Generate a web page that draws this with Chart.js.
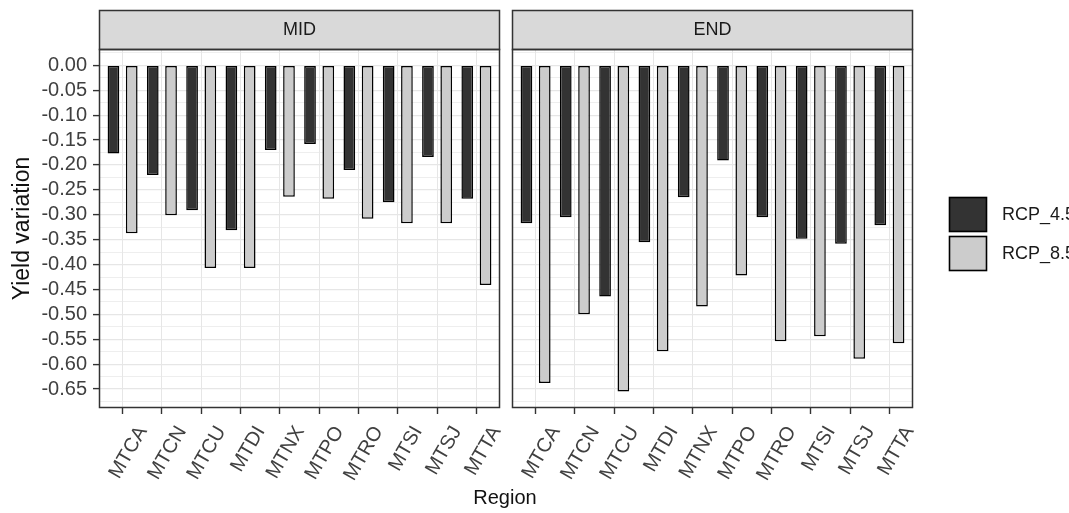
<!DOCTYPE html>
<html>
<head>
<meta charset="utf-8">
<script src="https://cdn.jsdelivr.net/npm/chart.js@4.4.1/dist/chart.umd.min.js"></script>
<style>
  html, body { margin:0; padding:0; background:#fff; overflow:hidden; width:1069px; height:513px; }
  #wrap { position:relative; width:1069px; height:513px; }
  canvas { position:absolute; top:0; }
  #c1 { left:0; }
  #c2 { left:506px; }
  #xtitle { position:absolute; left:0; width:1010px; top:486px; text-align:center;
            font:20px "Liberation Sans", Arial, sans-serif; line-height:22px; color:#111; }
</style>
</head>
<body>
<div id="wrap">
  <canvas id="c1" width="506" height="513"></canvas>
  <canvas id="c2" width="563" height="513"></canvas>
  <div id="xtitle"></div>
</div>
<script>
// ---------------- data ----------------
const regions = ['MTCA','MTCN','MTCU','MTDI','MTNX','MTPO','MTRO','MTSI','MTSJ','MTTA'];
const periods = ['MID','END'];
const seriesNames = ['RCP_4.5','RCP_8.5'];
const midRcp45 = [-0.177,-0.220,-0.291,-0.331,-0.170,-0.158,-0.210,-0.275,-0.184,-0.268];
const midRcp85 = [-0.337,-0.301,-0.407,-0.407,-0.264,-0.268,-0.308,-0.317,-0.317,-0.441];
const endRcp45 = [-0.317,-0.305,-0.464,-0.355,-0.265,-0.191,-0.305,-0.348,-0.358,-0.321];
const endRcp85 = [-0.638,-0.500,-0.655,-0.574,-0.484,-0.422,-0.554,-0.544,-0.589,-0.558];
const yTickValues = [0,-0.05,-0.10,-0.15,-0.20,-0.25,-0.30,-0.35,-0.40,-0.45,-0.50,-0.55,-0.60,-0.65];
const yTickLabels = ['0.00','-0.05','-0.10','-0.15','-0.20','-0.25','-0.30','-0.35','-0.40','-0.45','-0.50','-0.55','-0.60','-0.65'];
const yMinorValues = [0.025,-0.025,-0.075,-0.125,-0.175,-0.225,-0.275,-0.325,-0.375,-0.425,-0.475,-0.525,-0.575,-0.625,-0.675];
const yTitle = 'Yield variation';
const xTitle = 'Region';
const seriesColors = ['#333333','#cccccc'];

// ---------------- setup ----------------
const FONT = '"Liberation Sans", Arial, sans-serif';
Chart.defaults.font.family = FONT;
document.getElementById('xtitle').textContent = xTitle;

function isMajor(v) { return yTickValues.some(t => Math.abs(t - v) < 1e-6); }

const facetPlugin = {
  id: 'facet',
  afterDraw(chart, args, opts) {
    const { ctx, chartArea: a } = chart;
    ctx.save();
    const stripH = 39;
    // strip
    ctx.fillStyle = '#d9d9d9';
    ctx.fillRect(a.left, a.top - stripH, a.right - a.left, stripH);
    ctx.strokeStyle = '#333333';
    ctx.lineWidth = 1.5;
    ctx.strokeRect(a.left + 0.5, a.top - stripH + 0.5, a.right - a.left - 1, stripH);
    // panel border
    ctx.strokeRect(a.left + 0.5, a.top + 0.5, a.right - a.left - 1, a.bottom - a.top - 1);
    // strip text
    ctx.fillStyle = '#1a1a1a';
    ctx.font = '18px ' + FONT;
    ctx.textAlign = 'center';
    ctx.textBaseline = 'middle';
    ctx.fillText(opts.title, (a.left + a.right) / 2, a.top - stripH / 2 + 1);
    // legend
    if (opts.legend) {
      const kx = 443, ky = [197, 236], kw = 38, kh = 35;
      chart.data.datasets.forEach((ds, i) => {
        ctx.fillStyle = ds.backgroundColor;
        ctx.fillRect(kx, ky[i], kw, kh);
        ctx.strokeStyle = '#000';
        ctx.lineWidth = 1.6;
        ctx.strokeRect(kx + 0.5, ky[i] + 0.5, kw - 1, kh - 1);
        ctx.fillStyle = '#1a1a1a';
        ctx.font = '18px ' + FONT;
        ctx.textAlign = 'left';
        ctx.textBaseline = 'middle';
        ctx.fillText(ds.label, 496, ky[i] + kh / 2 + 1);
      });
    }
    ctx.restore();
  }
};

function makeChart(id, title, d45, d85, isLeft) {
  const mk = (label, arr, color) => ({
    label, data: arr.map((v, i) => ({ x: i, y: v })),
    backgroundColor: color, borderColor: '#000', borderWidth: 1.5, borderSkipped: false,
    categoryPercentage: 0.93, barPercentage: 0.64
  });
  return new Chart(document.getElementById(id), {
    type: 'bar',
    data: { datasets: [mk(seriesNames[0], d45, seriesColors[0]), mk(seriesNames[1], d85, seriesColors[1])] },
    options: {
      responsive: false,
      animation: false,
      layout: { padding: { left: isLeft ? 0 : 6, right: isLeft ? 6 : 156, top: 49, bottom: 0 } },
      plugins: {
        legend: { display: false },
        tooltip: { enabled: false },
        facet: { title: title, legend: !isLeft }
      },
      scales: {
        x: {
          type: 'linear', min: -0.6, max: 9.6, offset: false,
          afterBuildTicks: s => { s.ticks = regions.map((_, i) => ({ value: i })); },
          afterFit: s => { s.height = 105; s.paddingLeft = 0; s.paddingRight = 0; },
          border: { display: false },
          grid: { color: '#e6e6e6', lineWidth: 1, offset: false, tickLength: 6, tickColor: '#333333', tickWidth: 1.4 },
          ticks: {
            autoSkip: false, maxRotation: 60, minRotation: 60, labelOffset: 20, padding: 8,
            color: '#404040', font: { size: 20 },
            callback: v => regions[Math.round(v)]
          }
        },
        y: {
          min: -0.688, max: 0.0328,
          afterBuildTicks: s => {
            s.ticks = yTickValues.concat(yMinorValues).sort((a, b) => b - a).map(v => ({ value: v }));
          },
          afterFit: s => { s.width = isLeft ? 99 : 0; s.paddingTop = 0; s.paddingBottom = 0; },
          border: { display: false },
          grid: {
            color: '#e6e6e6',
            lineWidth: c => isMajor(c.tick.value) ? 1.2 : 0.7,
            drawTicks: isLeft,
            tickLength: 6,
            tickWidth: 1.4,
            tickColor: c => isMajor(c.tick.value) ? '#333333' : 'rgba(0,0,0,0)'
          },
          ticks: {
            display: isLeft, autoSkip: false, padding: 6, color: '#404040', font: { size: 20 },
            callback: v => { const k = yTickValues.findIndex(t => Math.abs(t - v) < 1e-6); return k >= 0 ? yTickLabels[k] : ''; }
          },
          title: {
            display: isLeft, text: yTitle, color: '#111', font: { size: 23 }, padding: { top: 9, bottom: 0 }
          }
        }
      }
    },
    plugins: [facetPlugin]
  });
}

makeChart('c1', periods[0], midRcp45, midRcp85, true);
makeChart('c2', periods[1], endRcp45, endRcp85, false);
</script>
</body>
</html>
